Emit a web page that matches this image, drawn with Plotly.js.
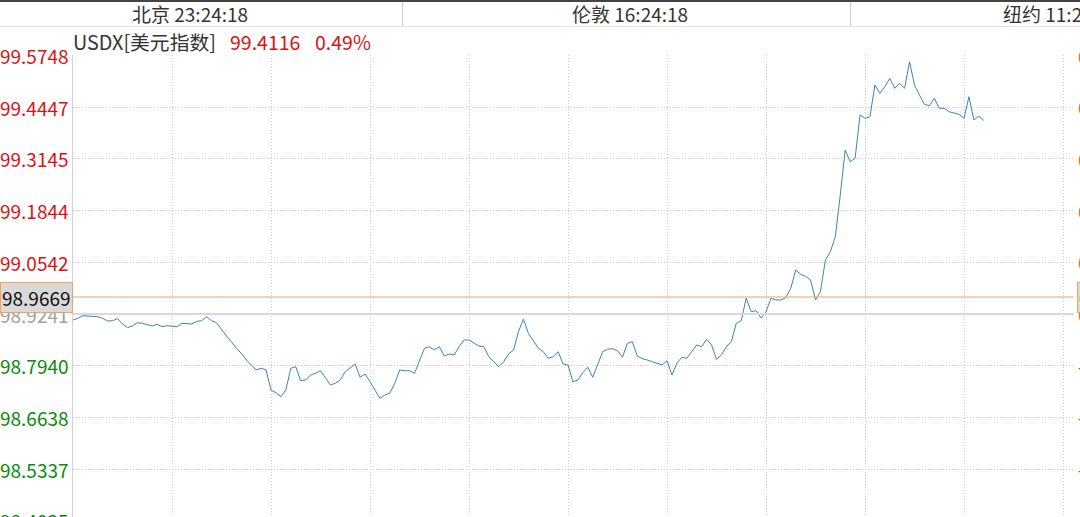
<!DOCTYPE html>
<html><head><meta charset="utf-8">
<script src="https://cdn.plot.ly/plotly-3.0.1.min.js"></script>
<style>html,body{margin:0;padding:0;width:1080px;height:517px;overflow:hidden;background:#fff}#chart{width:1140px;height:540px}</style>
</head><body><div id="chart"></div><script>
const symbol = 'USDX[美元指数]';
const lastPrice = '99.4116';
const changePct = '0.49%';
const clockCities = ['北京', '伦敦', '纽约'];
const clockTimes = ['23:24:18', '16:24:18', '11:24:18'];
const prevClose = 98.9241;
const markLevel = 98.9669;
const priceTicks = [99.5748, 99.4447, 99.3145, 99.1844, 99.0542, 98.9241, 98.7940, 98.6638, 98.5337, 98.4035];
const stepMinutes = 3;
const usdx = [
98.9090, 98.9133, 98.9198, 98.9191, 98.9173, 98.9173, 98.9133, 98.9065, 98.9072, 98.9123,
98.8989, 98.8896, 98.8939, 98.9022, 98.9007, 98.8964, 98.8939, 98.8982, 98.8921, 98.8946,
98.8939, 98.8921, 98.9007, 98.8989, 98.8989, 98.9057, 98.9072, 98.9173, 98.9072, 98.9022,
98.8838, 98.8687, 98.8544, 98.8377, 98.8251, 98.8083, 98.7957, 98.7831, 98.7874, 98.7831,
98.7327, 98.7259, 98.7159, 98.7327, 98.7874, 98.7914, 98.7561, 98.7579, 98.7705, 98.7748,
98.7813, 98.7622, 98.7453, 98.7496, 98.7579, 98.7788, 98.7874, 98.7982, 98.7647, 98.7730,
98.7536, 98.7310, 98.7118, 98.7201, 98.7244, 98.7496, 98.7831, 98.7813, 98.7813, 98.7748,
98.8083, 98.8377, 98.8418, 98.8335, 98.8418, 98.8183, 98.8234, 98.8209, 98.8418, 98.8586,
98.8586, 98.8503, 98.8435, 98.8418, 98.8166, 98.8040, 98.7914, 98.8040, 98.8234, 98.8335,
98.8795, 98.9115, 98.8755, 98.8569, 98.8377, 98.8292, 98.8126, 98.8166, 98.8292, 98.7982,
98.7957, 98.7536, 98.7579, 98.7763, 98.7899, 98.7647, 98.7957, 98.8292, 98.8352, 98.8367,
98.8317, 98.8151, 98.8503, 98.8544, 98.8183, 98.8115, 98.8083, 98.8040, 98.8015, 98.7957,
98.8065, 98.7705, 98.8000, 98.8151, 98.8126, 98.8292, 98.8460, 98.8418, 98.8604, 98.8460,
98.8100, 98.8209, 98.8418, 98.8544, 98.9007, 98.9072, 98.9644, 98.9299, 98.9324, 98.9140,
98.9291, 98.9636, 98.9594, 98.9594, 98.9651, 98.9888, 99.0349, 99.0241, 99.0190, 99.0097,
98.9594, 98.9803, 99.0601, 99.0810, 99.1187, 99.2237, 99.3371, 99.3076, 99.3162, 99.4252,
99.4169, 99.4209, 99.5007, 99.4798, 99.4964, 99.5176, 99.4924, 99.5050, 99.4924, 99.5594,
99.5007, 99.4755, 99.4521, 99.4486, 99.4672, 99.4421, 99.4421, 99.4335, 99.4295, 99.4269,
99.4169, 99.4713, 99.4126, 99.4226, 99.4116
];

const W = 1140, H = 540, L = 73, R = 1074, T = 55, B = 540;
const pxPerMin = 1.65;
const px = X => (X - L) / (R - L);
const py = Y => (B - Y) / (B - T);
const FONT = '"Noto Sans CJK SC", "Noto Sans", sans-serif';
const RED = '#dd1111', GREEN = '#0b8a0b', GREY = '#a0a0a0', DARK = '#333333';

const xs = usdx.map((_, i) => i * stepMinutes);
const yLo = prevClose - (B - 314) / 397.1;
const yHi = prevClose + (314 - T) / 397.1;

const ann = [];
const clockX = [[190, 'center'], [630, 'center'], [1001, 'left']];
clockCities.forEach((c, i) => {
  ann.push({xref: 'paper', yref: 'paper', x: px(clockX[i][0]), y: py(13), xanchor: clockX[i][1], yanchor: 'middle',
    text: c + ' ' + clockTimes[i], showarrow: false, font: {family: FONT, size: 19, color: DARK}});
});
ann.push({xref: 'paper', yref: 'paper', x: px(71), y: py(41.5), xanchor: 'left', yanchor: 'middle', text: symbol,
  showarrow: false, font: {family: FONT, size: 19.8, color: DARK}});
ann.push({xref: 'paper', yref: 'paper', x: px(228), y: py(41.5), xanchor: 'left', yanchor: 'middle', text: lastPrice,
  showarrow: false, font: {family: FONT, size: 19.5, color: RED}});
ann.push({xref: 'paper', yref: 'paper', x: px(313), y: py(41.5), xanchor: 'left', yanchor: 'middle', text: changePct,
  showarrow: false, font: {family: FONT, size: 19.5, color: RED}});
priceTicks.forEach(v => {
  const col = Math.abs(v - prevClose) < 1e-6 ? GREY : (v > prevClose ? RED : GREEN);
  ann.push({xref: 'paper', yref: 'y', x: 0, y: v, xanchor: 'right', yanchor: 'middle', xshift: -2,
    text: v.toFixed(4), showarrow: false, font: {family: FONT, size: 19, color: col}});
  const pct = ((v / prevClose - 1) * 100).toFixed(2) + '%';
  ann.push({xref: 'paper', yref: 'y', x: 1, y: v, xanchor: 'left', yanchor: 'middle', xshift: 2,
    text: pct, showarrow: false, font: {family: FONT, size: 18, color: v >= prevClose ? '#e07030' : GREEN}});
});
ann.push({xref: 'paper', yref: 'y', x: px(0), y: markLevel, xanchor: 'left', yanchor: 'middle',
  text: markLevel.toFixed(4), showarrow: false, bgcolor: '#d9d9d9', bordercolor: '#f0a35a', borderwidth: 1, borderpad: 1,
  font: {family: FONT, size: 19, color: '#111'}});
ann.push({xref: 'paper', yref: 'y', x: 1, y: markLevel, xanchor: 'left', yanchor: 'middle', xshift: 3,
  text: ((markLevel / prevClose - 1) * 100).toFixed(2) + '%', showarrow: false, bgcolor: '#d9d9d9', bordercolor: '#f0a35a', borderwidth: 1,
  font: {family: FONT, size: 19, color: '#111'}});

const shapes = [
  {type: 'line', xref: 'paper', yref: 'paper', x0: px(0), x1: px(W), y0: py(1), y1: py(1), line: {color: '#444', width: 2}},
  {type: 'line', xref: 'paper', yref: 'paper', x0: px(0), x1: px(W), y0: py(26.5), y1: py(26.5), line: {color: '#e2e2e2', width: 1}},
  {type: 'line', xref: 'paper', yref: 'paper', x0: px(402.5), x1: px(402.5), y0: py(2), y1: py(26), line: {color: '#cfcfcf', width: 1}},
  {type: 'line', xref: 'paper', yref: 'paper', x0: px(850.5), x1: px(850.5), y0: py(2), y1: py(26), line: {color: '#cfcfcf', width: 1}},
  {type: 'line', xref: 'paper', yref: 'y', x0: 0, x1: 1, y0: prevClose, y1: prevClose, line: {color: '#d8d8d8', width: 2}},
  {type: 'line', xref: 'paper', yref: 'y', x0: px(72), x1: 1, y0: markLevel, y1: markLevel, line: {color: '#f0a35a', width: 1}}
];

const gridX = [];
for (let m = 60; m < 620; m += 60) gridX.push(m);

Plotly.newPlot('chart', [{
  type: 'scatter', mode: 'lines', x: xs, y: usdx,
  line: {color: '#3a85b8', width: 1}, hoverinfo: 'skip', showlegend: false
}], {
  width: W, height: H,
  margin: {l: L, r: W - R, t: T, b: H - B, pad: 0},
  paper_bgcolor: '#ffffff', plot_bgcolor: '#ffffff',
  xaxis: {range: [0, (R - L) / pxPerMin], tickmode: 'array', tickvals: gridX, showticklabels: false, ticks: '',
    showgrid: true, gridcolor: '#cccccc', griddash: '1px,2px', gridwidth: 1, zeroline: false, showline: false, fixedrange: true},
  yaxis: {range: [yLo, yHi], tickmode: 'array', tickvals: priceTicks.filter(v => Math.abs(v - prevClose) > 1e-6),
    showticklabels: false, ticks: '', showgrid: true, gridcolor: '#cccccc', griddash: '1px,2px', gridwidth: 1,
    zeroline: false, showline: true, linecolor: '#d4d4d4', linewidth: 1, fixedrange: true},
  shapes: shapes,
  annotations: ann,
  font: {family: FONT}
}, {displayModeBar: false, staticPlot: true});
</script></body></html>
